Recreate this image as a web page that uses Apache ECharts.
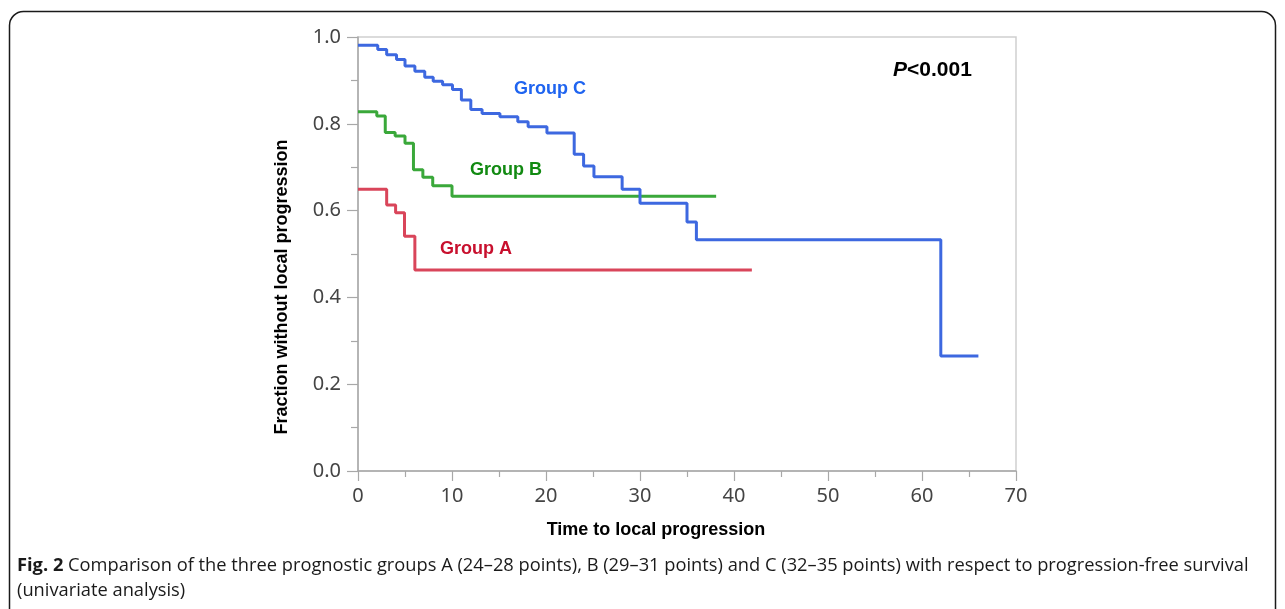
<!DOCTYPE html>
<html>
<head>
<meta charset="utf-8">
<script src="https://cdn.jsdelivr.net/npm/echarts@6/dist/echarts.min.js"></script>
<style>
html,body{margin:0;padding:0;background:#fff;}
#chart{width:1285px;height:609px;}
</style>
</head>
<body>
<div id="chart"></div>
<script>
// Kaplan-Meier step data (time, fraction without local progression)
const groupCTime = [0, 2.1, 3.05, 4.1, 5.0, 6.05, 7.1, 8.0, 9.0, 10.05, 11.0, 12.0, 13.2, 15.1, 17.0, 18.1, 20.1, 23.0, 24.0, 25.1, 28.1, 30.0, 35.0, 36.0, 62.0, 66.0];
const groupCVal  = [0.981, 0.971, 0.959, 0.948, 0.933, 0.921, 0.907, 0.898, 0.890, 0.879, 0.855, 0.833, 0.824, 0.816, 0.805, 0.793, 0.779, 0.730, 0.703, 0.678, 0.649, 0.617, 0.574, 0.533, 0.265, 0.265];
const groupBTime = [0, 2.0, 2.9, 3.95, 5.0, 5.9, 6.9, 7.95, 10.0, 38.1];
const groupBVal  = [0.828, 0.818, 0.780, 0.772, 0.755, 0.694, 0.677, 0.657, 0.633, 0.633];
const groupATime = [0, 3.05, 4.0, 4.95, 6.05, 41.9];
const groupAVal  = [0.649, 0.613, 0.595, 0.541, 0.463, 0.463];
const xTicks = [0, 10, 20, 30, 40, 50, 60, 70];
const yTicks = [0.0, 0.2, 0.4, 0.6, 0.8, 1.0];
const groupNames = ['Group C', 'Group B', 'Group A'];
const xTitle = 'Time to local progression';
const yTitle = 'Fraction without local progression';
const pText = '<0.001';
const captionBold = 'Fig. 2';
const captionLine1 = ' Comparison of the three prognostic groups A (24\u201328 points), B (29\u201331 points) and C (32\u201335 points) with respect to progression-free survival';
const captionLine2 = '(univariate analysis)';

const zip = (t, v) => t.map((x, i) => [x, v[i]]);
const chart = echarts.init(document.getElementById('chart'), null, {renderer: 'canvas'});
const tickFont = {fontFamily: 'Noto Sans', fontSize: 20, color: '#444'};
const axisGrey = '#a8a8a8';

chart.setOption({
  animation: false,
  grid: {left: 358, top: 37, right: 269, bottom: 138, show: true, borderColor: '#cfcfcf', borderWidth: 1.5},
  xAxis: {
    type: 'value', min: xTicks[0], max: xTicks[xTicks.length - 1], interval: 10,
    axisLine: {show: true, lineStyle: {color: axisGrey, width: 1.5}},
    axisTick: {show: true, inside: false, length: 10, lineStyle: {color: axisGrey, width: 1.2}},
    minorTick: {show: true, splitNumber: 2, length: 6, lineStyle: {color: axisGrey, width: 1.2}},
    splitLine: {show: false},
    axisLabel: Object.assign({margin: 15}, tickFont)
  },
  yAxis: {
    type: 'value', min: yTicks[0], max: yTicks[yTicks.length - 1], interval: 0.2,
    axisLine: {show: true, lineStyle: {color: axisGrey, width: 1.5}},
    axisTick: {show: true, inside: false, length: 11, lineStyle: {color: axisGrey, width: 1.2}},
    minorTick: {show: true, splitNumber: 2, length: 7, lineStyle: {color: axisGrey, width: 1.2}},
    splitLine: {show: false},
    axisLabel: Object.assign({margin: 17, formatter: v => v.toFixed(1)}, tickFont)
  },
  series: [
    {name: groupNames[0], type: 'line', step: 'end', showSymbol: false, data: zip(groupCTime, groupCVal),
     lineStyle: {color: '#3d68e0', width: 3}, z: 3},
    {name: groupNames[1], type: 'line', step: 'end', showSymbol: false, data: zip(groupBTime, groupBVal),
     lineStyle: {color: '#3aa83a', width: 3}, z: 2},
    {name: groupNames[2], type: 'line', step: 'end', showSymbol: false, data: zip(groupATime, groupAVal),
     lineStyle: {color: '#d9455a', width: 3}, z: 2}
  ],
  graphic: [
    {type: 'rect', shape: {x: 9.5, y: 11.5, width: 1266, height: 640, r: 14}, style: {fill: 'none', stroke: '#1a1a1a', lineWidth: 1.5}, silent: true},
    {type: 'text', x: 550, y: 89, style: {text: groupNames[0], fill: '#1f64f0', font: 'bold 18px "Liberation Sans"', textAlign: 'center', textVerticalAlign: 'middle'}},
    {type: 'text', x: 506, y: 170, style: {text: groupNames[1], fill: '#128a12', font: 'bold 18px "Liberation Sans"', textAlign: 'center', textVerticalAlign: 'middle'}},
    {type: 'text', x: 476, y: 249, style: {text: groupNames[2], fill: '#c8102e', font: 'bold 18px "Liberation Sans"', textAlign: 'center', textVerticalAlign: 'middle'}},
    {type: 'text', x: 893, y: 70, style: {rich: {i: {font: 'italic bold 21px "Liberation Sans"', fill: '#000'}, b: {font: 'bold 21px "Liberation Sans"', fill: '#000'}}, text: '{i|P}{b|' + pText + '}', textAlign: 'left', textVerticalAlign: 'middle'}},
    {type: 'text', x: 656, y: 530, style: {text: xTitle, fill: '#000', font: 'bold 18px "Liberation Sans"', textAlign: 'center', textVerticalAlign: 'middle'}},
    {type: 'text', x: 282, y: 287, rotation: Math.PI / 2, style: {text: yTitle, fill: '#000', font: 'bold 18px "Liberation Sans"', textAlign: 'center', textVerticalAlign: 'middle'}},
    {type: 'text', x: 17, y: 566, style: {rich: {b: {font: 'bold 18.3px "Open Sans"', fill: '#1a1a1a'}, n: {font: '18.3px "Open Sans"', fill: '#1a1a1a'}}, text: '{b|' + captionBold + '}{n|' + captionLine1 + '}', textVerticalAlign: 'middle'}},
    {type: 'text', x: 17, y: 591, style: {text: captionLine2, font: '18.3px "Open Sans"', fill: '#1a1a1a', textVerticalAlign: 'middle'}}
  ]
});
</script>
</body>
</html>
